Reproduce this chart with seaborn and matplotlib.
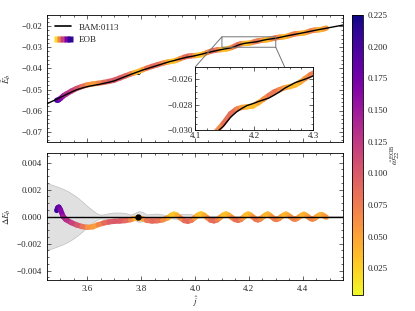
import numpy as np
import matplotlib
matplotlib.use("Agg")
import matplotlib.pyplot as plt
import seaborn as sns
import pandas as pd
from matplotlib.collections import LineCollection
from matplotlib.colors import Normalize
from matplotlib.cm import ScalarMappable
from matplotlib.lines import Line2D
from matplotlib.legend_handler import HandlerTuple
from matplotlib.ticker import MultipleLocator

# EOB samples: j, Delta E_b (x1e-4) and omega_22
j_eob = [3.486, 3.490, 3.494, 3.500, 3.510, 3.520, 3.540, 3.560, 3.580, 3.600,
         3.620, 3.640, 3.660, 3.680, 3.700, 3.720, 3.740, 3.760, 3.775, 3.790,
         3.805, 3.820, 3.840, 3.860, 3.880, 3.900, 3.912, 3.922, 3.933, 3.945,
         3.960, 3.973, 3.986, 3.998, 4.010, 4.022, 4.034, 4.046, 4.058, 4.070,
         4.082, 4.093, 4.104, 4.115, 4.126, 4.137, 4.148, 4.160, 4.170, 4.179,
         4.188, 4.198, 4.207, 4.216, 4.225, 4.234, 4.243, 4.252, 4.261, 4.270,
         4.278, 4.286, 4.295, 4.303, 4.312, 4.320, 4.329, 4.338, 4.346, 4.355,
         4.364, 4.372, 4.380, 4.388, 4.397, 4.405, 4.413, 4.421, 4.429, 4.437,
         4.445, 4.452, 4.460, 4.468, 4.476, 4.483, 4.488]
dE_eob = [4.5, 6.5, 7.0, 5.0, 0.0, -2.2, -4.5, -6.2, -7.4, -8.0,
          -7.6, -6.0, -4.8, -4.0, -3.5, -3.3, -3.0, -2.3, -1.4, -1.0,
          -1.6, -2.8, -3.3, -3.1, -2.4, -0.9, 1.0, 1.8, 1.0, -1.0,
          -3.0, -3.5, -2.8, -1.0, 1.0, 2.0, 1.0, -1.0, -2.7, -3.2,
          -2.5, -0.8, 1.0, 1.9, 1.0, -0.8, -2.2, -2.8, -2.2, -0.8,
          1.0, 1.9, 1.0, -0.5, -2.0, -2.5, -1.8, -0.4, 1.0, 1.9,
          1.0, -0.4, -1.8, -2.2, -1.5, -0.2, 1.0, 1.8, 1.0, -0.3,
          -1.6, -2.0, -1.4, -0.2, 1.0, 1.7, 0.9, -0.3, -1.5, -1.9,
          -1.3, -0.2, 0.9, 1.5, 1.0, 0.0, -0.5]
omega_eob = [0.215, 0.205, 0.19, 0.175, 0.155, 0.14, 0.125, 0.11, 0.095, 0.07,
             0.05, 0.06, 0.08, 0.095, 0.10, 0.10, 0.095, 0.08, 0.055, 0.03,
             0.04, 0.07, 0.09, 0.09, 0.075, 0.05, 0.035, 0.025, 0.035, 0.055,
             0.08, 0.092, 0.088, 0.065, 0.04, 0.025, 0.035, 0.055, 0.08, 0.09,
             0.085, 0.062, 0.04, 0.028, 0.037, 0.055, 0.078, 0.088, 0.082, 0.06,
             0.04, 0.03, 0.038, 0.055, 0.074, 0.082, 0.076, 0.058, 0.042, 0.032,
             0.04, 0.055, 0.07, 0.077, 0.072, 0.056, 0.043, 0.034, 0.042, 0.055,
             0.068, 0.074, 0.07, 0.056, 0.044, 0.036, 0.043, 0.055, 0.066, 0.072,
             0.068, 0.055, 0.045, 0.038, 0.044, 0.054, 0.06]

# NR (BAM:0113) binding energy (x1e-4); inner part shares the EOB j grid
j_nr_pre = [3.45, 3.465, 3.478]
Eb_nr_pre = [-567, -558, -550.5]
Eb_nr_on_eob = [-546, -543.5, -541, -537, -530.5, -524.5, -512, -501, -493, -486,
                -481, -476.5, -471, -465.5, -459, -449, -439, -429, -422, -415,
                -408, -402, -394, -386, -378, -370, -366, -363, -359, -355,
                -350, -346, -343.5, -340.5, -337, -333.5, -329.5, -325.5, -322, -318.5,
                -315, -312, -309.5, -307, -304.5, -301.5, -297, -290, -285.8, -283,
                -280.7, -279.2, -277.6, -276.2, -274.8, -272.5, -270, -267, -264.8, -262.6,
                -261.3, -260, -258.4, -256.8, -254.2, -252, -249.7, -247.2, -245, -242.8,
                -240.6, -238.7, -236.8, -234.9, -232.7, -230.8, -228.7, -226.6, -224.5, -222.4,
                -220.3, -218.5, -216.6, -214.7, -212.9, -211.2, -210]
j_nr_post = [4.50, 4.525, 4.55]
Eb_nr_post = [-207, -201, -195]

# NR error band (x1e-3)
j_err = [3.45, 3.47, 3.49, 3.51, 3.53, 3.55, 3.57, 3.59, 3.61, 3.63,
         3.645, 3.66, 3.68, 3.70, 3.72, 3.74, 3.76, 3.775, 3.79, 3.805,
         3.82, 3.84, 3.86, 3.88, 3.90, 3.92, 3.95, 3.98, 4.00, 4.03, 4.55]
err = [2.45, 2.35, 2.2, 2.05, 1.85, 1.6, 1.3, 0.95, 0.6, 0.3,
       0.15, 0.15, 0.25, 0.3, 0.3, 0.27, 0.15, 0.25, 0.4, 0.35,
       0.15, 0.2, 0.22, 0.15, 0.1, 0.15, 0.2, 0.2, 0.1, 0.05, 0.05]

merger_j = 3.788
merger_Eb = -0.0416

sns.set_style("ticks")
plt.rcParams.update({
    "font.family": "serif",
    "font.serif": ["Liberation Serif", "DejaVu Serif"],
    "mathtext.fontset": "stix",
    "font.size": 6.5,
    "xtick.direction": "in", "ytick.direction": "in",
    "xtick.top": True, "ytick.right": True,
    "xtick.major.size": 3, "ytick.major.size": 3,
    "xtick.minor.size": 1.5, "ytick.minor.size": 1.5,
    "xtick.major.width": 0.5, "ytick.major.width": 0.5,
    "xtick.minor.width": 0.5, "ytick.minor.width": 0.5,
    "axes.linewidth": 0.6,
    "axes.edgecolor": "black",
})

j_eob = np.array(j_eob)
dE = np.array(dE_eob) * 1e-4
omega = np.array(omega_eob)
Eb_nr_mid = np.array(Eb_nr_on_eob) * 1e-4
Eb_eob = Eb_nr_mid - dE
nr = pd.DataFrame({
    "j": np.concatenate([j_nr_pre, j_eob, j_nr_post]),
    "Eb": np.concatenate([np.array(Eb_nr_pre) * 1e-4, Eb_nr_mid, np.array(Eb_nr_post) * 1e-4]),
})
j_err = np.array(j_err)
err = np.array(err) * 1e-3

cmap = plt.get_cmap("plasma_r")
norm = Normalize(vmin=0.004, vmax=0.225)


def colored_line(ax, x, y, c, lw=3.8):
    pts = np.column_stack([x, y]).reshape(-1, 1, 2)
    segs = np.concatenate([pts[:-1], pts[1:]], axis=1)
    lc = LineCollection(segs, cmap=cmap, norm=norm, linewidths=lw,
                        capstyle="round", joinstyle="round", zorder=2)
    lc.set_array((c[:-1] + c[1:]) / 2)
    ax.add_collection(lc)
    return lc


fig = plt.figure(figsize=(4.15, 3.11), dpi=100)
ax1 = fig.add_axes([0.1133, 0.5434, 0.7133, 0.408])
ax2 = fig.add_axes([0.1133, 0.0997, 0.7133, 0.408])
cax = fig.add_axes([0.848, 0.0514, 0.0265, 0.900])

# top panel
colored_line(ax1, j_eob, Eb_eob, omega)
sns.lineplot(data=nr, x="j", y="Eb", ax=ax1, color="black", lw=1.0, zorder=3,
             sort=False, legend=False)
ax1.plot([merger_j], [merger_Eb], "o", color="black", ms=2.5, zorder=1)
ax1.set_xlim(3.45, 4.55)
ax1.set_ylim(-0.0748, -0.0148)
ax1.xaxis.set_major_locator(MultipleLocator(0.2))
ax1.xaxis.set_minor_locator(MultipleLocator(0.05))
ax1.yaxis.set_major_locator(MultipleLocator(0.01))
ax1.yaxis.set_minor_locator(MultipleLocator(0.002))
ax1.tick_params(labelbottom=False)
ax1.set_xlabel("")
ax1.set_ylabel(r"$\hat{E}_b$")

h_nr = Line2D([], [], color="black", lw=1.2)
h_eob = tuple(Line2D([], [], ls="", marker="s", ms=4, mec="none",
                     color=cmap(norm(v))) for v in [0.02, 0.07, 0.12, 0.17, 0.21])
ax1.legend([h_nr, h_eob], ["BAM:0113", "EOB"], loc="upper left",
           handler_map={tuple: HandlerTuple(ndivide=None, pad=0)},
           frameon=False, handlelength=1.8, fontsize=6.5)

# inset
axins = ax1.inset_axes([0.5, 0.094, 0.399, 0.496])
colored_line(axins, j_eob, Eb_eob, omega)
sns.lineplot(data=nr, x="j", y="Eb", ax=axins, color="black", lw=1.0, zorder=3,
             sort=False, legend=False)
axins.set_xlim(4.1, 4.3)
axins.set_ylim(-0.030, -0.02505)
axins.xaxis.set_major_locator(MultipleLocator(0.1))
axins.xaxis.set_minor_locator(MultipleLocator(0.02))
axins.yaxis.set_major_locator(MultipleLocator(0.002))
axins.yaxis.set_minor_locator(MultipleLocator(0.0005))
axins.set_xlabel("")
axins.set_ylabel("")
axins.tick_params(labelsize=6.5, pad=1.5)
ax1.indicate_inset_zoom(axins, edgecolor="0.45", alpha=1.0, linewidth=0.7)

# bottom panel
ax2.fill_between(j_err, -err, err, color="0.88", edgecolor="0.75", lw=0.5, zorder=0)
colored_line(ax2, j_eob, dE, omega)
ax2.axhline(0, color="black", lw=1.0, zorder=3)
ax2.plot([merger_j], [0], "o", color="black", ms=3.5, zorder=4)
ax2.set_xlim(3.45, 4.55)
ax2.set_ylim(-0.0047, 0.0047)
ax2.xaxis.set_major_locator(MultipleLocator(0.2))
ax2.xaxis.set_minor_locator(MultipleLocator(0.05))
ax2.yaxis.set_major_locator(MultipleLocator(0.002))
ax2.yaxis.set_minor_locator(MultipleLocator(0.0005))
ax2.ticklabel_format(axis="y", style="plain", useOffset=False)
ax2.set_xlabel(r"$\hat{j}$", labelpad=1)
ax2.set_ylabel(r"$\Delta E_b$")

for a in (ax1, ax2):
    a.yaxis.set_label_coords(-0.115, 0.5)

# colorbar
cb = fig.colorbar(ScalarMappable(norm=norm, cmap=cmap), cax=cax)
cb.set_ticks([0.025, 0.05, 0.075, 0.1, 0.125, 0.15, 0.175, 0.2, 0.225])
cb.ax.yaxis.set_minor_locator(MultipleLocator(0.005))
cb.ax.tick_params(which="both", direction="in", left=False, right=True)
cb.outline.set_linewidth(0.6)
cb.set_label(r"$\hat{\omega}_{22}^{\rm EOB}$", labelpad=0)

fig.savefig("out.png", dpi=100)
